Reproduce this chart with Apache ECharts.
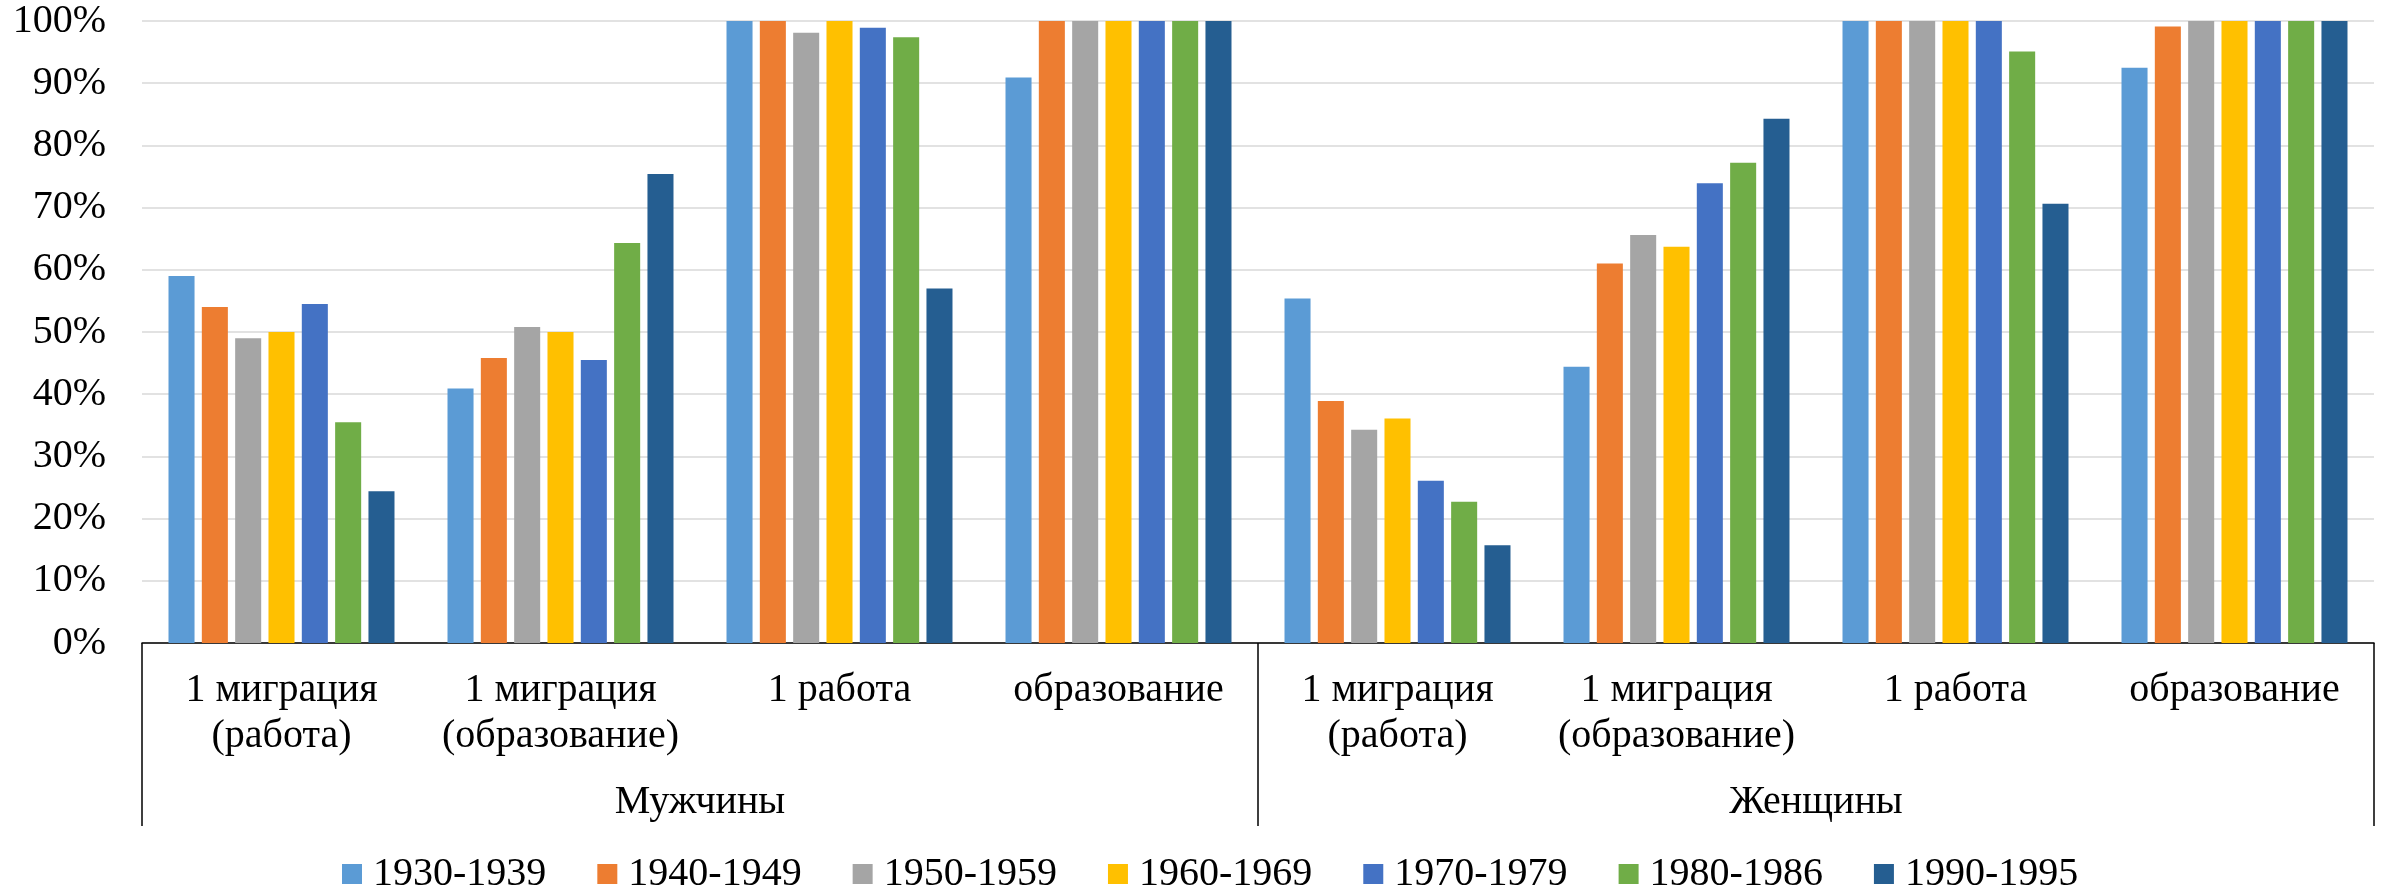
<!DOCTYPE html>
<html>
<head>
<meta charset="utf-8">
<script src="https://cdn.jsdelivr.net/npm/echarts@6/dist/echarts.min.js"></script>
<style>
  html, body { margin: 0; padding: 0; background: #fff; }
  #chart { width: 2389px; height: 888px; }
</style>
</head>
<body>
<div id="chart"></div>
<script>
// категории нижнего уровня и группы
const categories = [
  '1 миграция\n(работа)', '1 миграция\n(образование)', '1 работа', 'образование',
  '1 миграция\n(работа)', '1 миграция\n(образование)', '1 работа', 'образование'
]
const groups = ['Мужчины', 'Женщины']
const cohorts = ['1930-1939', '1940-1949', '1950-1959', '1960-1969', '1970-1979', '1980-1986', '1990-1995']
const colors = ['#5B9BD5', '#ED7D31', '#A5A5A5', '#FFC000', '#4472C4', '#70AD47', '#255E91']

// доли, %
const v1930 = [59.0, 40.9, 100, 90.9, 55.4, 44.4, 100, 92.5]
const v1940 = [54.0, 45.8, 100, 100, 38.9, 61.0, 100, 99.1]
const v1950 = [49.0, 50.8, 98.1, 100, 34.3, 65.6, 100, 100]
const v1960 = [50.0, 50.0, 100, 100, 36.1, 63.7, 100, 100]
const v1970 = [54.5, 45.5, 98.9, 100, 26.1, 73.9, 100, 100]
const v1980 = [35.5, 64.3, 97.4, 100, 22.7, 77.2, 95.1, 100]
const v1990 = [24.4, 75.4, 57.0, 100, 15.7, 84.3, 70.6, 100]
const values = [v1930, v1940, v1950, v1960, v1970, v1980, v1990]

const font = 'Liberation Serif'
const chart = echarts.init(document.getElementById('chart'))

chart.setOption({
  animation: false,
  color: colors,
  textStyle: { fontFamily: font, color: '#000' },
  grid: { left: 142, right: 15, top: 21, bottom: 245, outerBoundsMode: 'none' },
  legend: {
    left: 337,
    top: 849,
    icon: 'rect',
    itemWidth: 20,
    itemHeight: 20,
    itemGap: 51,
    textStyle: { fontFamily: font, fontSize: 40, lineHeight: 40, color: '#000', padding: [0, 0, 0, 6] },
    data: cohorts
  },
  xAxis: [
    {
      type: 'category',
      data: categories,
      axisLine: { lineStyle: { color: '#000', width: 1.5 } },
      axisTick: { show: false },
      axisLabel: { interval: 0, margin: 24, fontFamily: font, fontSize: 40, lineHeight: 46, color: '#000' }
    },
    {
      type: 'category',
      position: 'bottom',
      data: groups,
      axisLine: { show: false },
      axisTick: { show: true, length: 183, lineStyle: { color: '#000', width: 1.5 } },
      axisLabel: { margin: 136, fontFamily: font, fontSize: 40, lineHeight: 46, color: '#000' }
    }
  ],
  yAxis: {
    type: 'value',
    min: 0,
    max: 100,
    interval: 10,
    axisLine: { show: false },
    axisTick: { show: false },
    axisLabel: { formatter: '{value}%', margin: 36, fontFamily: font, fontSize: 40, color: '#000' },
    splitLine: { lineStyle: { color: '#D9D9D9', width: 1.5 } }
  },
  series: cohorts.map((name, i) => ({
    name,
    type: 'bar',
    xAxisIndex: 0,
    barGap: '28%',
    barCategoryGap: '19%',
    data: values[i]
  }))
})
</script>
</body>
</html>
